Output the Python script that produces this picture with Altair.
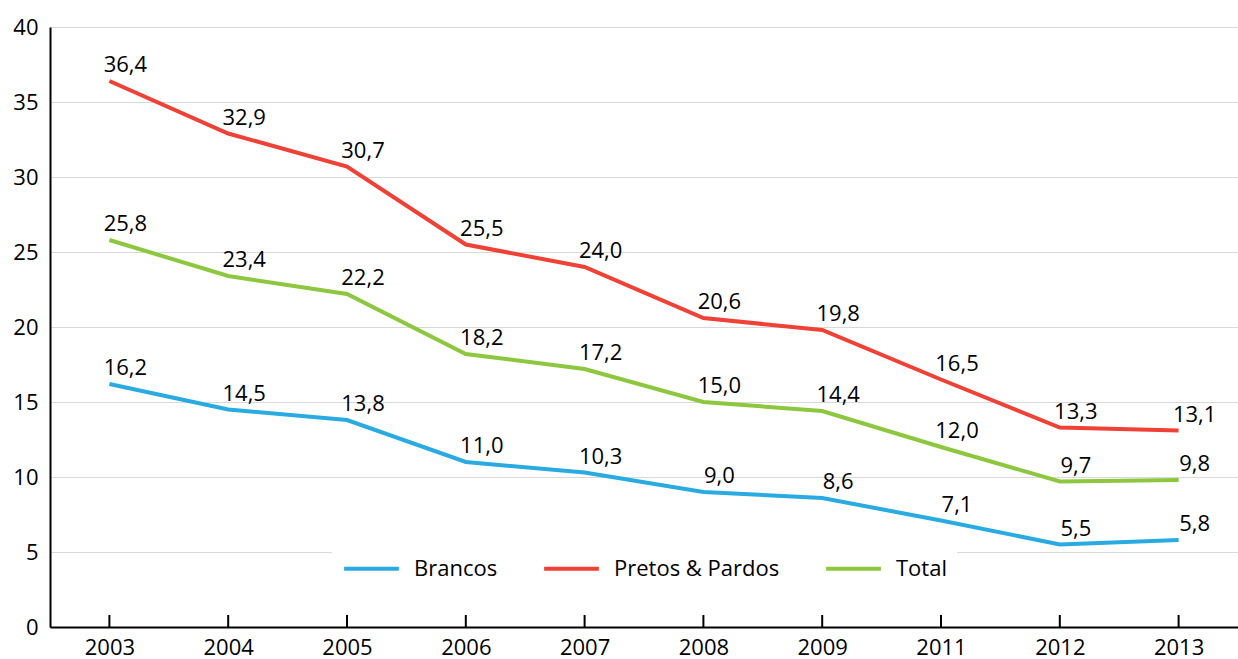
import altair as alt
import pandas as pd

years = ["2003", "2004", "2005", "2006", "2007", "2008", "2009", "2011", "2012", "2013"]
brancos = [16.2, 14.5, 13.8, 11.0, 10.3, 9.0, 8.6, 7.1, 5.5, 5.8]
pretos = [36.4, 32.9, 30.7, 25.5, 24.0, 20.6, 19.8, 16.5, 13.3, 13.1]
total = [25.8, 23.4, 22.2, 18.2, 17.2, 15.0, 14.4, 12.0, 9.7, 9.8]
series_names = ["Brancos", "Pretos & Pardos", "Total"]
series_colors = ["#29ABE2", "#EF4136", "#8DC63F"]
y_ticks = [0, 5, 10, 15, 20, 25, 30, 35, 40]

rows = []
for name, vals in zip(series_names, [brancos, pretos, total]):
    for y, v in zip(years, vals):
        rows.append({"year": y, "serie": name, "value": v,
                     "label": f"{v:.1f}".replace(".", ",")})
df = pd.DataFrame(rows)

W, H = 1188, 600
FONT = "Open Sans"

x_enc = alt.X("year:N", sort=years, scale=alt.Scale(type="point", padding=0.5),
              axis=alt.Axis(title=None, ticks=False, labelAngle=0, labelFontSize=22,
                            labelColor="black", labelFont=FONT, labelPadding=10,
                            domainColor="black", domainWidth=2, grid=False))
y_enc = alt.Y("value:Q", scale=alt.Scale(domain=[0, 40], nice=False),
              axis=alt.Axis(title=None, values=y_ticks, ticks=False, labelFontSize=22,
                            labelColor="black", labelFont=FONT, labelPadding=12,
                            domainColor="black", domainWidth=2, gridColor="#d9d9d9",
                            gridWidth=1))

color_enc = alt.Color("serie:N", sort=series_names,
                      scale=alt.Scale(domain=series_names, range=series_colors),
                      legend=alt.Legend(title=None, orient="none", direction="horizontal",
                                        legendX=282, legendY=502, symbolType="stroke",
                                        symbolSize=3000, symbolStrokeWidth=4,
                                        labelFontSize=22, labelFont=FONT, labelColor="black",
                                        columnPadding=38, labelOffset=13, fillColor="white",
                                        padding=10, labelLimit=400))

lines = alt.Chart(df).mark_line(strokeWidth=4).encode(x=x_enc, y=y_enc, color=color_enc)

labels = alt.Chart(df).mark_text(fontSize=22, font=FONT, color="black", dx=16, dy=-9,
                                 baseline="alphabetic", align="center").encode(
    x=alt.X("year:N", sort=years), y="value:Q", text="label:N")

tick_df = pd.DataFrame({"year": years})
ticks = alt.Chart(tick_df).mark_rule(color="black", strokeWidth=2).encode(
    x=alt.X("year:N", sort=years), y=alt.value(H - 12), y2=alt.value(H))

chart = alt.layer(lines, labels, ticks).properties(
    width=W, height=H,
    autosize=alt.AutoSizeParams(type="none"),
    padding={"left": 50, "top": 27, "right": 0, "bottom": 32},
).configure_view(stroke=None).configure(background="white")

chart.save("out.html", embed_options={"renderer": "svg", "actions": False})
